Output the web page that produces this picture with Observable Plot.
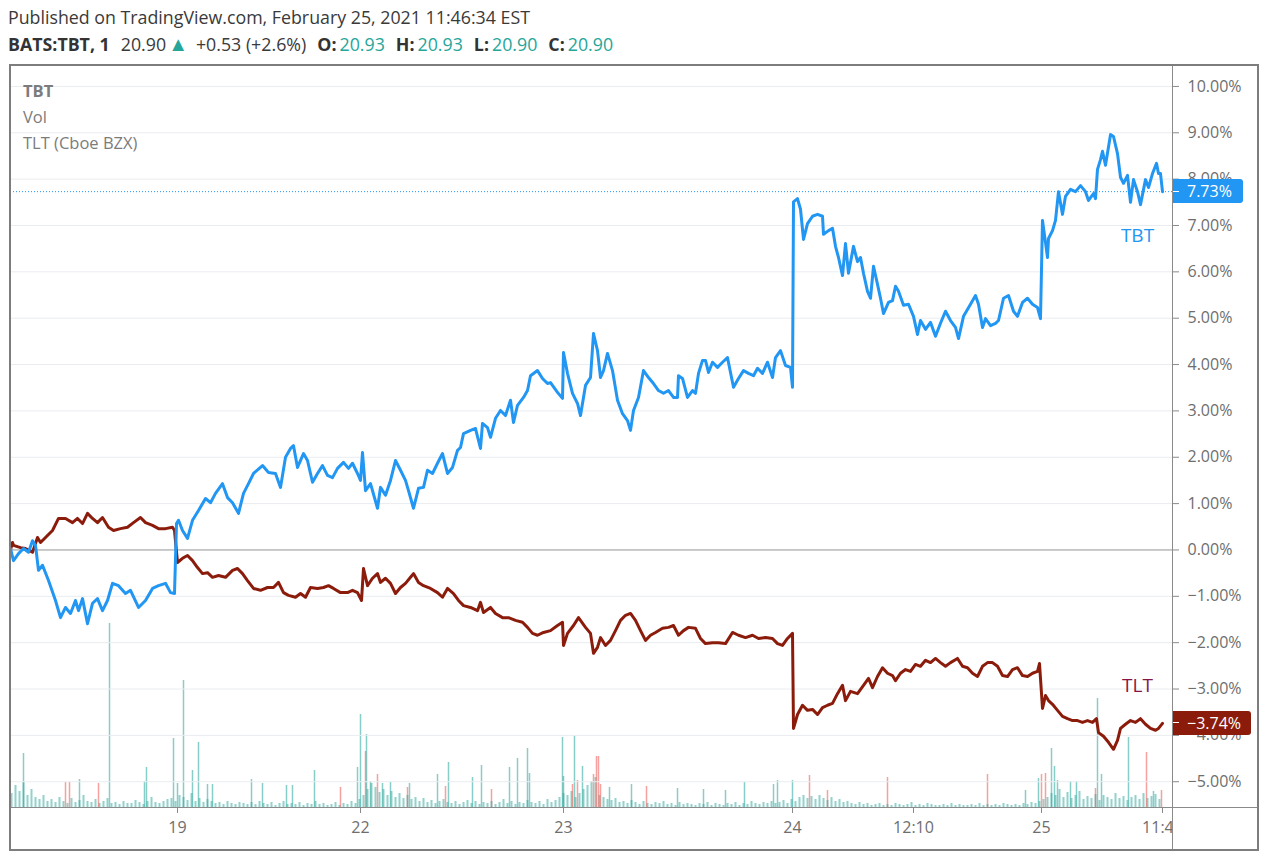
<!DOCTYPE html>
<html><head><meta charset="utf-8">
<script src="https://cdn.jsdelivr.net/npm/d3@7"></script>
<script src="https://cdn.jsdelivr.net/npm/@observablehq/plot@0.6"></script>
<style>
body{margin:0;background:#fff;width:1270px;height:860px;position:relative;overflow:hidden;font-family:"Open Sans",sans-serif;color:#333;}
.abs{position:absolute;}
#h1{left:8px;top:5px;font-size:17.8px;color:#3a3a3a;white-space:nowrap;}
#h2{left:8px;top:30px;font-size:17.8px;color:#3a3a3a;white-space:nowrap;}
#h2 b{font-weight:700;color:#333;}
#h2 .t{color:#26a69a;}
#h2 .g{margin-left:11px;}
.pane{left:10px;top:65px;}
#frame{left:9px;top:64px;width:1250px;height:787px;border:2px solid #7d7d7d;box-sizing:border-box;z-index:6;pointer-events:none;}
#vsep{left:1172px;top:66px;width:1px;height:783px;background:#8a8a8a;z-index:5;}
#hsep{left:11px;top:807px;width:1246px;height:1px;background:#8a8a8a;z-index:5;}
#corner{left:1173px;top:808px;width:84px;height:41px;background:#fff;z-index:4;}
#legend{left:23px;top:78px;font-size:16.5px;color:#7c7c7c;line-height:26px;z-index:5;}
.plab{position:absolute;left:1173px;height:24px;line-height:24px;color:#fff;font-size:16px;padding-left:14px;border-radius:0 3px 3px 0;z-index:5;box-sizing:border-box;}
.plab:before{content:"";position:absolute;left:0;top:11.5px;width:6px;height:1px;background:#fff;}
</style></head><body>
<div id="h1" class="abs"></div>
<div id="h2" class="abs"></div>
<div id="vol" class="abs pane" style="z-index:1"></div>
<div id="main" class="abs pane" style="z-index:2"></div>
<div id="corner" class="abs"></div>
<div id="vsep" class="abs"></div>
<div id="hsep" class="abs"></div>
<div id="frame" class="abs"></div>
<div id="legend" class="abs"><b>TBT</b><br>Vol<br>TLT (Cboe BZX)</div>
<script>
// ---------- header data ----------
const publishedText = "Published on TradingView.com, February 25, 2021 11:46:34 EST";
const symbolText = "BATS:TBT, 1";
const lastPrice = "20.90";
const change = "+0.53 (+2.6%)";
const ohlcKeys = ["O:", "H:", "L:", "C:"];
const ohlcVals = ["20.93", "20.93", "20.90", "20.90"];

// ---------- axis data ----------
const yTicks = [-5, -4, -3, -2, -1, 0, 1, 2, 3, 4, 5, 6, 7, 8, 9, 10];
const yDomain = [-5.556, 10.43];
const xDomain = [10, 1172];           // bar numbers (1-minute bars with trades)
const xTickBars = [177, 360, 563, 792, 913, 1041, 1162];
const xTickLabels = ["19", "22", "23", "24", "12:10", "25", "11:46"];

// ---------- TBT (% change) ----------
const tbtBar = [10,13,18,23,28,32,35,38,42,48,55,60,65,70,75,78,82,87,92,97,102,107,112,118,125,130,138,145,152,158,165,170,174,
176,178,182,187,192,198,205,210,215,222,227,232,238,243,248,253,262,268,275,280,285,290,293,297,303,307,312,317,322,327,332,337,343,348,352,357,
360,362,365,370,377,380,385,390,395,400,405,408,413,418,423,427,432,437,442,447,452,457,460,463,470,475,480,482,487,490,495,500,505,510,513,517,523,527,530,537,542,547,550,557,
562,563,567,572,577,580,585,590,593,597,600,603,607,612,617,622,627,630,633,638,643,648,653,658,663,668,673,677,678,682,687,692,695,698,702,705,708,712,717,722,727,730,733,738,743,748,753,757,762,767,772,775,780,785,790,792,
793,797,800,803,807,812,817,822,823,828,832,835,838,842,845,848,853,857,860,863,867,870,873,877,880,883,888,892,895,898,903,908,913,917,920,925,930,935,940,945,950,955,958,963,970,975,978,982,985,990,995,998,1003,1008,1013,1017,1022,1027,1032,1037,1040,
1042,1045,1047,1048,1052,1055,1058,1062,1065,1070,1075,1080,1085,1088,1093,1095,1097,1100,1102,1105,1110,1113,1117,1120,1123,1127,1130,1133,1137,1140,1145,1148,1152,1156,1158,1160,1162];
const tbtPct = [0.03,-0.23,-0.08,0.03,-0.05,0.20,0.10,-0.44,-0.33,-0.66,-1.09,-1.46,-1.24,-1.37,-1.09,-1.31,-1.05,-1.59,-1.15,-1.05,-1.31,-1.09,-0.72,-0.77,-0.94,-0.87,-1.24,-1.09,-0.83,-0.77,-0.72,-0.92,-0.94,
0.57,0.64,0.42,0.25,0.64,0.85,1.11,1.02,1.22,1.43,1.13,1.02,0.79,1.22,1.43,1.65,1.82,1.67,1.65,1.35,2.00,2.19,2.25,1.78,2.08,1.93,1.46,1.65,1.82,1.61,1.56,1.76,1.89,1.76,1.87,1.65,
1.50,2.10,1.28,1.43,0.90,1.35,1.18,1.50,1.93,1.72,1.50,1.28,0.90,1.33,1.35,1.72,1.65,1.87,2.08,1.65,1.78,2.15,2.21,2.51,2.58,2.62,2.19,2.73,2.64,2.43,2.84,3.01,2.90,3.23,2.75,3.12,3.29,3.44,3.76,3.87,3.70,3.59,3.61,3.40,
3.27,4.26,3.81,3.38,3.16,2.90,3.55,3.72,4.67,4.30,3.72,3.87,4.24,3.87,3.23,2.94,2.79,2.58,3.01,3.29,3.87,3.72,3.59,3.44,3.38,3.44,3.29,3.29,3.76,3.70,3.29,3.44,3.38,3.81,4.09,4.09,3.83,4.05,3.94,4.05,4.15,3.83,3.51,3.70,3.87,3.81,3.76,3.92,3.81,4.05,3.72,4.15,4.30,3.98,3.94,3.51,
7.51,7.58,7.35,6.70,7.04,7.20,7.24,7.20,6.81,6.89,6.94,6.55,6.31,5.92,6.61,5.97,6.55,6.22,6.31,5.97,5.58,5.43,6.12,5.73,5.43,5.10,5.34,5.38,5.69,5.58,5.28,5.30,5.04,4.65,4.95,4.76,4.91,4.61,4.89,5.15,4.95,4.80,4.56,5.04,5.30,5.49,5.30,4.80,4.99,4.84,4.89,4.95,5.43,5.49,5.15,5.04,5.34,5.43,5.30,5.23,4.99,
7.11,6.63,6.31,6.72,6.89,7.11,7.73,7.24,7.63,7.78,7.73,7.86,7.73,7.54,7.69,7.58,8.21,8.42,8.60,8.30,8.96,8.92,8.55,8.04,7.91,8.08,7.50,7.99,7.73,7.45,7.99,7.82,8.12,8.34,8.12,8.12,7.73];

// ---------- TLT (% change) ----------
const tltBar = [10,12,13,20,25,32,37,40,45,52,58,65,72,77,82,87,92,97,102,108,113,120,127,133,140,145,152,158,165,172,174,
177,182,187,192,197,202,207,212,218,225,232,237,242,247,253,260,267,273,278,283,288,295,300,305,310,317,323,328,333,340,347,352,357,
361,363,367,372,377,380,385,390,395,400,405,410,413,418,423,430,437,442,447,453,458,463,470,477,480,483,490,495,502,508,515,522,527,532,537,543,550,557,
562,563,567,573,578,585,590,593,597,600,605,610,615,620,625,630,635,640,645,650,655,662,668,673,678,683,688,695,700,705,712,718,725,732,738,745,752,758,765,772,777,782,787,792,
793,797,802,807,812,817,822,827,832,837,842,845,850,857,863,868,872,877,882,887,892,895,900,905,910,915,920,925,930,935,940,945,950,957,962,967,972,977,982,987,992,997,1002,1007,1012,1017,1022,1027,1032,1037,1039,
1042,1045,1048,1052,1057,1062,1067,1072,1077,1082,1087,1092,1096,1098,1103,1108,1113,1117,1120,1125,1130,1135,1140,1145,1150,1155,1158,1162];
const tltPct = [0.00,0.16,0.10,0.05,0.03,-0.05,0.27,0.16,0.27,0.42,0.68,0.68,0.59,0.68,0.57,0.79,0.68,0.59,0.70,0.49,0.42,0.46,0.49,0.59,0.70,0.59,0.53,0.46,0.46,0.49,0.42,
-0.27,-0.18,-0.12,-0.23,-0.38,-0.51,-0.49,-0.59,-0.55,-0.59,-0.44,-0.40,-0.51,-0.66,-0.83,-0.87,-0.81,-0.81,-0.70,-0.92,-0.98,-1.02,-0.94,-1.02,-0.81,-0.83,-0.81,-0.77,-0.83,-0.92,-0.92,-0.87,-0.92,
-1.09,-0.40,-0.77,-0.61,-0.51,-0.70,-0.61,-0.72,-0.94,-0.81,-0.72,-0.59,-0.51,-0.70,-0.77,-0.83,-0.92,-1.02,-0.83,-0.94,-1.09,-1.20,-1.24,-1.31,-1.13,-1.35,-1.24,-1.37,-1.46,-1.46,-1.52,-1.56,-1.67,-1.80,-1.84,-1.78,-1.74,-1.63,
-1.56,-2.06,-1.80,-1.63,-1.46,-1.67,-1.80,-2.23,-2.10,-1.89,-2.06,-1.95,-1.74,-1.52,-1.41,-1.37,-1.52,-1.74,-1.95,-1.84,-1.78,-1.69,-1.67,-1.63,-1.84,-1.74,-1.67,-1.69,-1.91,-2.02,-2.00,-2.00,-2.02,-1.78,-1.84,-1.89,-1.84,-1.91,-1.89,-1.91,-2.02,-2.06,-1.91,-1.80,
-3.85,-3.55,-3.35,-3.46,-3.44,-3.55,-3.40,-3.35,-3.31,-3.10,-2.92,-3.25,-3.05,-3.10,-2.92,-2.77,-2.97,-2.73,-2.54,-2.66,-2.71,-2.82,-2.66,-2.58,-2.62,-2.47,-2.51,-2.38,-2.43,-2.34,-2.43,-2.51,-2.43,-2.34,-2.51,-2.54,-2.66,-2.73,-2.51,-2.43,-2.43,-2.51,-2.71,-2.73,-2.58,-2.54,-2.71,-2.73,-2.66,-2.62,-2.45,
-3.42,-3.14,-3.25,-3.33,-3.46,-3.59,-3.64,-3.68,-3.68,-3.72,-3.68,-3.72,-3.64,-3.94,-4.02,-4.15,-4.30,-4.11,-3.85,-3.76,-3.68,-3.72,-3.64,-3.76,-3.85,-3.89,-3.85,-3.74];

// ---------- Volume (K shares, TBT) ----------
const volStartBar = 11, volBarStep = 4;
const volBase = [
14,22,16,25,12,18,10,8,12,6, 8,5,10,6,4,9,5,7,12,6, 5,8,4,6,9,4,5,3,6,4, 4,7,5,3,6,10,5,4,6,8,
9,6,12,10,7,14,6,9,5,8, 6,4,5,3,6,4,3,5,4,3, 5,3,6,4,3,5,2,4,6,3, 4,3,5,2,4,3,6,3,4,2,
3,5,2,4,3,6,4,8,12,18, 24,20,15,18,12,16,10,14,9,12, 8,10,6,9,5,7,4,6,8,5, 4,6,3,5,7,4,6,3,5,4,
6,3,5,8,4,6,3,5,4,7, 5,4,6,3,8,5,7,10,14,12, 16,10,14,18,22,26,30,12,10,8, 7,9,5,6,4,7,5,3,6,4,
3,5,4,6,3,4,2,5,3,4, 3,2,4,3,5,2,4,3,2,4, 3,5,2,4,3,6,4,3,5,4, 6,4,5,7,4,8,6,10,12,9,
11,8,12,9,7,10,6,8,5,6, 4,3,5,3,4,2,3,4,2,3, 2,4,3,2,3,5,2,3,2,4, 3,2,2,3,2,4,2,3,2,2,
3,2,4,2,3,2,3,2,4,3, 2,3,2,4,3,5,4,6,8,10, 14,12,18,10,15,9,12,16,8,11, 9,13,7,12,10,8,14,9,11,7,
10,12,8,14,9,11,13,8];
const volSpikeBar = [23,65,69,79,98,109,144,146,173,177,183,192,198,207,212,251,262,286,292,314,340,357,360,365,366,370,377,382,390,407,409,
437,445,448,472,481,491,509,517,527,529,562,563,572,574,577,582,593,596,598,600,609,631,646,677,703,725,744,773,777,792,809,827,
887,987,1025,1038,1041,1045,1051,1054,1057,1070,1076,1095,1097,1101,1128,1146,1153,1161];
const volSpikeSize = [54,25,25,28,24,184,26,40,69,24,127,37,65,23,23,28,24,22,22,37,20,40,93,56,73,26,33,24,25,20,24,
33,21,45,30,42,18,40,49,59,34,70,31,23,72,27,41,33,51,51,23,20,23,21,19,18,17,25,23,27,27,32,17,
30,33,17,29,33,34,59,41,27,26,26,19,109,33,70,55,16,17];
const volSpikeDir = ["u","d","d","u","d","u","u","u","u","u","u","u","u","u","u","u","u","u","u","u","d","u","u","d","u","u","d","u","u","d","u",
"u","d","u","u","u","d","u","u","u","u","u","u","d","u","d","u","d","d","d","d","u","u","d","u","u","u","u","u","u","u","d","d",
"d","d","u","u","d","d","u","u","u","u","u","d","u","u","u","d","u","d"];

// ---------- build tables ----------
const tbt = tbtBar.map((b, i) => ({bar: b, pct: tbtPct[i]}));
const tlt = tltBar.map((b, i) => ({bar: b, pct: tltPct[i]}));
const volA = volBase.map((v, i) => ({bar: volStartBar + i * volBarStep, v}));
const volB = volSpikeBar.map((b, i) => ({bar: b, v: volSpikeSize[i], dir: volSpikeDir[i]}));
const lastTbt = tbt[tbt.length - 1], lastTlt = tlt[tlt.length - 1];

const BLUE = "#2196f3", RED = "#8b1c0b", TLTLBL = "#861448";
const fmtPct = d => (d < 0 ? "\u2212" : "") + Math.abs(d).toFixed(2) + "%";
const W = 1248, H = 785, common = {width: W, height: H, marginLeft: 0, marginRight: 86, marginTop: 1, marginBottom: 43};

// header
document.getElementById("h1").textContent = publishedText;
document.getElementById("h2").innerHTML =
  `<b>${symbolText}</b><span class="g">${lastPrice}</span><span class="t" style="font-size:20px;margin-left:2px">&#9650;</span><span style="margin-left:8px">${change}</span>` +
  ohlcKeys.map((k, i) => `<b class="g">${k}</b><span class="t" style="margin-left:3px">${ohlcVals[i]}</span>`).join("");

// volume pane
const volPlot = Plot.plot({
  ...common,
  x: {domain: xDomain, axis: null},
  y: {domain: [0, 741], axis: null},
  style: {background: "transparent"},
  marks: [
    Plot.ruleX(volA, {x: "bar", y1: 0, y2: "v", stroke: "#26a69a", strokeOpacity: 0.5, strokeWidth: 2}),
    Plot.ruleX(volB, {x: "bar", y1: 0, y2: "v", stroke: d => d.dir === "u" ? "#26a69a" : "#ef5350", strokeOpacity: 0.55, strokeWidth: 1.5})
  ]
});
document.getElementById("vol").appendChild(volPlot);

// main pane
const mainPlot = Plot.plot({
  ...common,
  x: {domain: xDomain, axis: null},
  y: {domain: yDomain, axis: null},
  style: {background: "transparent", fontFamily: "'Open Sans', sans-serif", overflow: "visible"},
  marks: [
    Plot.gridY(yTicks, {stroke: "#e9ecf0", strokeOpacity: 1}),
    Plot.ruleY([0], {stroke: "#9e9e9e", strokeWidth: 1}),
    Plot.ruleY([lastTbt.pct], {stroke: BLUE, strokeDasharray: "1,2", strokeWidth: 1}),
    Plot.line(tlt, {x: "bar", y: "pct", stroke: RED, strokeWidth: 3, strokeLinejoin: "round"}),
    Plot.line(tbt, {x: "bar", y: "pct", stroke: BLUE, strokeWidth: 3, strokeLinejoin: "round"}),
    Plot.axisY(yTicks, {anchor: "right", label: null, tickSize: 6, tickPadding: 9, tickFormat: fmtPct, fontSize: 16, color: "#6e6e6e", stroke: "#8a8a8a"}),
    Plot.axisX(xTickBars, {anchor: "bottom", label: null, tickSize: 6, tickPadding: 8, tickFormat: d => xTickLabels[xTickBars.indexOf(d)], fontSize: 16, color: "#6e6e6e", stroke: "#8a8a8a"}),
    Plot.text([lastTbt], {x: "bar", y: "pct", text: () => "TBT", dx: -25, dy: 44, fill: BLUE, fontSize: 19}),
    Plot.text([lastTlt], {x: "bar", y: "pct", text: () => "TLT", dx: -25, dy: -37, fill: TLTLBL, fontSize: 19})
  ]
});
document.getElementById("main").appendChild(mainPlot);

// price labels on the right scale
const ys = mainPlot.scale("y");
function priceLabel(v, bg, w) {
  const d = document.createElement("div");
  d.className = "plab";
  d.style.top = (65 + ys.apply(v) - 12) + "px";
  d.style.width = w + "px";
  d.style.background = bg;
  d.textContent = fmtPct(v);
  document.body.appendChild(d);
}
priceLabel(lastTbt.pct, BLUE, 70);
priceLabel(lastTlt.pct, RED, 78);
</script>
</body></html>
